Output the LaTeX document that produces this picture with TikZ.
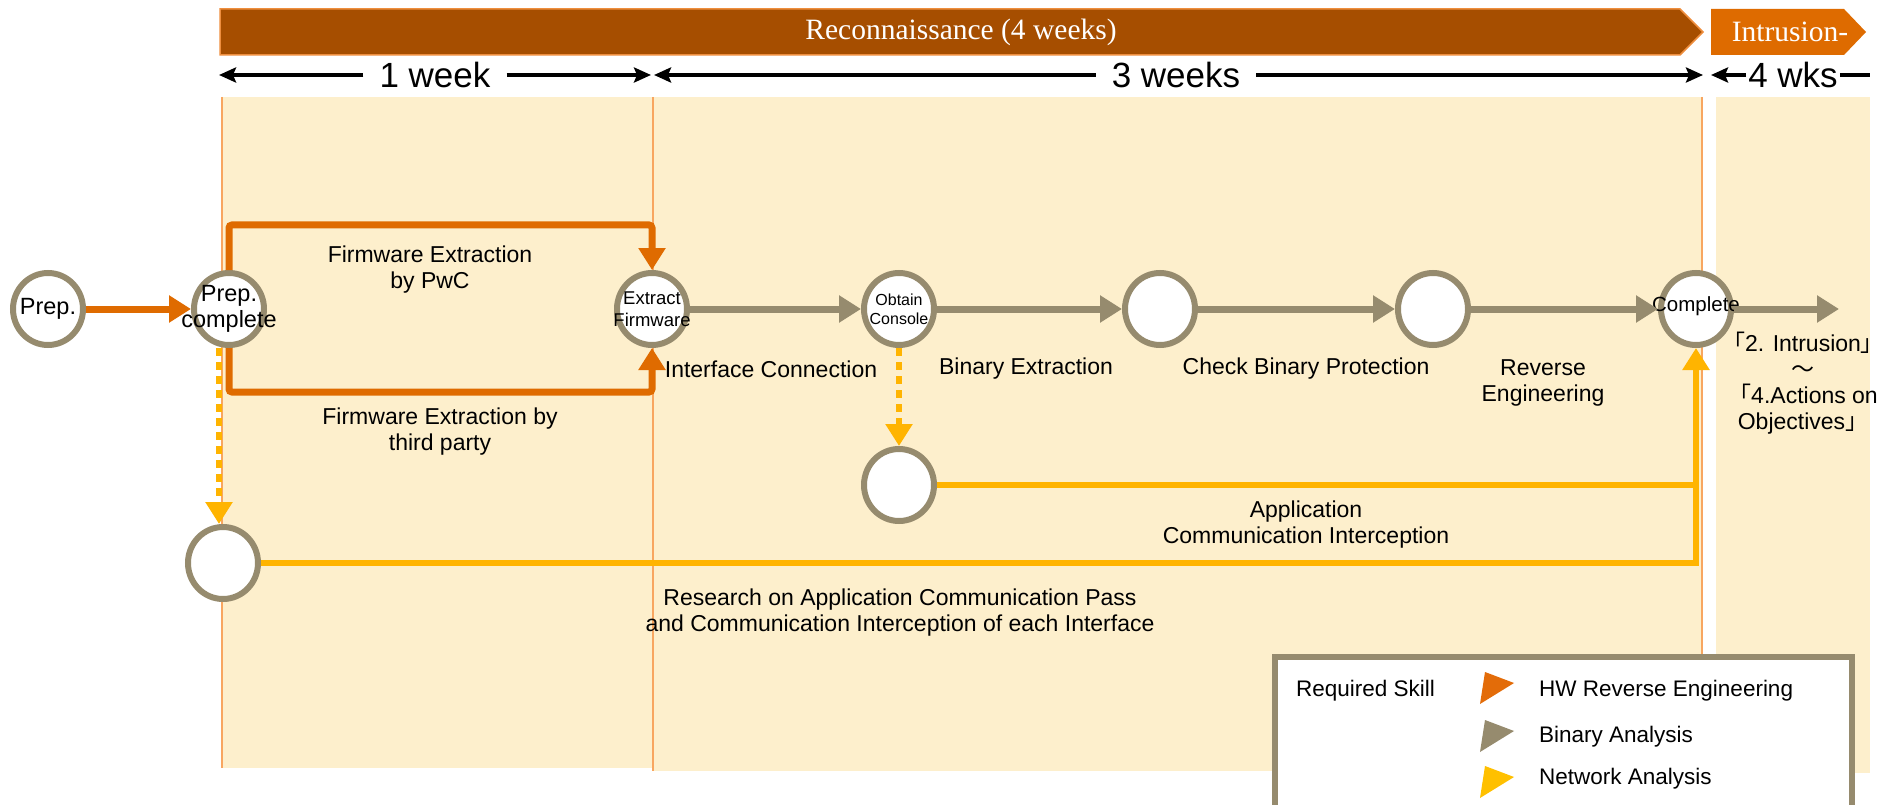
\documentclass[tikz,border=0pt]{standalone}
\usepackage{fontspec}
\setmainfont{Liberation Sans}
\newfontfamily\barserif{Liberation Serif}
\newfontfamily\cjkjp{Noto Sans CJK JP}
\usetikzlibrary{arrows.meta,shapes.geometric}

\definecolor{reconbar}{HTML}{A64E00}
\definecolor{intrbar}{HTML}{DE6B00}
\definecolor{baredge}{HTML}{EE8E3E}
\definecolor{panelfill}{HTML}{FDEFCC}
\definecolor{panelrule}{HTML}{F8A660}
\definecolor{ring}{HTML}{968B6E}
\definecolor{hwc}{HTML}{DF6B00}
\definecolor{binc}{HTML}{968B6E}
\definecolor{netc}{HTML}{FFB400}
\definecolor{hwleg}{HTML}{E36C09}
\definecolor{netleg}{HTML}{FFC000}

\tikzset{
  stage/.style={ellipse, draw=ring, line width=6pt, fill=white,
    minimum width=70pt, minimum height=72pt, inner sep=0pt},
  ringtext/.style={align=center, inner sep=0pt},
  caption/.style={align=center, inner sep=0pt, font=\fontsize{23}{26}\selectfont},
  bartext/.style={text=white, inner sep=0pt, font=\barserif\fontsize{29.5}{34}\selectfont},
  durtext/.style={inner xsep=16pt, inner ysep=0pt, font=\fontsize{35}{40}\selectfont},
  durarrow/.style={line width=4pt, -{Stealth[length=17pt,width=15pt,inset=3pt]}},
  durline/.style={line width=4pt},
  tipA/.style={-{Triangle[length=22pt,width=26pt]}},
  hw/.style={draw=hwc, line width=7pt, tipA, rounded corners=3pt},
  bin/.style={draw=binc, line width=7pt, tipA},
  netline/.style={draw=netc, line width=6pt},
  netarrow/.style={netline, tipA},
  netdash/.style={netarrow, dash pattern=on 8pt off 6pt},
  legtext/.style={anchor=west, inner sep=0pt, font=\fontsize{22.5}{26}\selectfont},
}

\begin{document}
\begin{tikzpicture}[x=1pt,y=-1pt]
\useasboundingbox (0,0) rectangle (1890,805);

% week panels
\fill[panelfill] (222,97) rectangle (653,768);
\fill[panelfill] (653,97) rectangle (1702,771);
\fill[panelfill] (1716,97) rectangle (1870,773);
\draw[panelrule, line width=2pt] (222,97) -- (222,768);
\draw[panelrule, line width=2pt] (653,97) -- (653,771);
\draw[panelrule, line width=2pt] (1702,97) -- (1702,771);

% phase banners
\filldraw[fill=reconbar, draw=baredge, line width=1.5pt]
  (220,9) -- (1680,9) -- (1703,32) -- (1680,55) -- (220,55) -- cycle;
\node[bartext] (recon) at (961,32) {Reconnaissance (4 weeks)};
\fill[intrbar] (1711,9) -- (1844,9) -- (1866,32) -- (1844,55) -- (1711,55) -- cycle;
\node[bartext] (intr) at (1790,32) {Intrusion-};

% durations
\node[durtext] (w1) at (435,75) {1 week};
\node[durtext] (w3) at (1176,75) {3 weeks};
\node[durtext, inner xsep=2pt] (w4) at (1793,75) {4 wks};
\coordinate (d0) at (219,75);
\coordinate (d1a) at (651,75);
\coordinate (d1b) at (654,75);
\coordinate (d2a) at (1703,75);
\coordinate (d2b) at (1711,75);
\coordinate (d3) at (1870,75);
\draw[durarrow] (w1.west) -- (d0);
\draw[durarrow] (w1.east) -- (d1a);
\draw[durarrow] (w3.west) -- (d1b);
\draw[durarrow] (w3.east) -- (d2a);
\draw[durarrow] (w4.west) -- (d2b);
\draw[durline] (w4.east) -- (d3);

% milestones
\node[stage] (prep)  at (48,309) {};
\node[stage] (prepc) at (229,309) {};
\node[stage] (extr)  at (652,309) {};
\node[stage] (obt)   at (899,309) {};
\node[stage] (bin1)  at (1160,309) {};
\node[stage] (bin2)  at (1433,309) {};
\node[stage] (comp)  at (1696,309) {};
\node[stage] (lowc)  at (899,485) {};
\node[stage] (botc)  at (223,563) {};

\node[ringtext, font=\fontsize{23.5}{26}\selectfont] (prept) at (prep) {Prep.};
\node[ringtext, font=\fontsize{23.5}{26}\selectfont] (prepct) at (prepc) {Prep.\\complete};
\node[ringtext, font=\fontsize{18.5}{22}\selectfont] (extrt) at (extr) {Extract\\Firmware};
\node[ringtext, font=\fontsize{16}{19}\selectfont] (obtt) at (obt) {Obtain\\Console};
\node[ringtext, font=\fontsize{20.5}{24}\selectfont] (compt) at ([yshift=3pt]comp.center) {Complete};

% task captions
\node[caption] (c1) at (430,270) {Firmware Extraction\\by PwC};
\node[caption] (c2) at (440,432) {Firmware Extraction by\\third party};
\node[caption] (c3) at (771,369) {Interface Connection};
\node[caption] (c4) at (1026,369) {Binary Extraction};
\node[caption] (c5) at (1306,369) {Check Binary Protection};
\node[caption] (c6) at (1543,383) {Reverse\\Engineering};
\node[caption] (c7) at (1306,525) {Application\\Communication Interception};
\node[caption] (c8) at (900,613) {Research on Application Communication Pass\\and Communication Interception of each Interface};
\node[caption] (c9) at (1803,383) {{\cjkjp 「}2. Intrusion{\cjkjp 」}\\{\cjkjp ～}\\{\cjkjp 「}4.Actions on\\Objectives{\cjkjp 」}};

% hardware reverse engineering paths
\coordinate (hwtop) at (652,225);
\coordinate (hwbot) at (652,392);
\draw[hw] (prep) -- (prepc);
\draw[hw] (prepc.north) |- (hwtop) -- (extr.north);
\draw[hw] (prepc.south) |- (hwbot) -- (extr.south);

% binary analysis chain
\coordinate (binend) at (1839,309);
\draw[bin] (extr) -- (obt);
\draw[bin] (obt) -- (bin1);
\draw[bin] (bin1) -- (bin2);
\draw[bin] (bin2) -- (comp);
\draw[bin] (comp) -- (binend);

% network analysis paths
\draw[netdash] (obt) -- (lowc);
\draw[netdash] ([xshift=-10pt]prepc.south) -- ([xshift=-4pt]botc.north);
\draw[netline] (lowc.east) -- ([xshift=3pt]lowc.east -| comp.south);
\draw[netarrow] (botc.east) -| (comp.south);

% legend
\draw[ring, line width=6pt, fill=white] (1275,657) rectangle (1852,840);
\node[legtext] (req) at (1296,691) {Required Skill};
\fill[hwleg]  (1485,672) -- (1514,683) -- (1480,704) -- cycle;
\fill[binc]   (1485,720) -- (1514,731) -- (1480,752) -- cycle;
\fill[netleg] (1485,766) -- (1514,777) -- (1480,798) -- cycle;
\node[legtext] (lhw)  at (1539,691) {HW Reverse Engineering};
\node[legtext] (lbin) at (1539,737) {Binary Analysis};
\node[legtext] (lnet) at (1539,779) {Network Analysis};
\end{tikzpicture}
\end{document}
